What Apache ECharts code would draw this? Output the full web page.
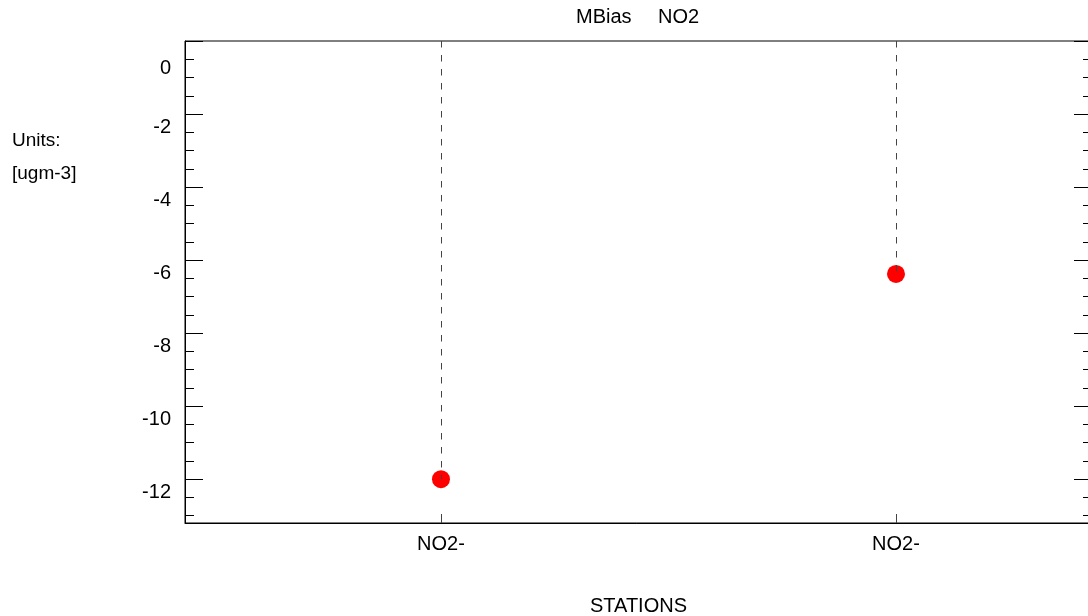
<!DOCTYPE html>
<html>
<head>
<meta charset="utf-8">
<script src="https://cdn.jsdelivr.net/npm/echarts@6/dist/echarts.min.js"></script>
<style>
  html, body { margin: 0; padding: 0; background: #fff; }
  #chart { width: 1088px; height: 616px; }
</style>
</head>
<body>
<div id="chart"></div>
<script>
// Mean bias of NO2 per station
const stations = ['NO2-', 'NO2-'];
const stationPos = [1, 2];
const mbias = [-12.0, -6.38];

const yMajor = [0, -2, -4, -6, -8, -10, -12];
const yMinor = [];
for (let v = 0; v >= -13; v -= 0.5) yMinor.push(v);

const FONT = "'Liberation Sans', Arial, sans-serif";
const Y_MIN = -13.2, Y_MAX = 0;

function yAxisDef(position, ticks, len, withLabels) {
  return {
    type: 'value', position: position, min: Y_MIN, max: Y_MAX,
    axisLine: { show: withLabels, onZero: false, lineStyle: { color: '#000', width: 1 } },
    axisTick: { show: true, inside: true, length: len, customValues: ticks,
                lineStyle: { color: '#000', width: 1 } },
    axisLabel: withLabels ? {
      show: true, customValues: yMajor, margin: 14, color: '#000',
      fontFamily: FONT, fontSize: 20,
      formatter: v => v === 0 ? '{z|0}' : '{n|' + v + '}',
      rich: {
        n: { padding: [26, 0, 0, 0], fontFamily: FONT, fontSize: 20, color: '#000' },
        z: { padding: [55, 0, 0, 0], fontFamily: FONT, fontSize: 20, color: '#000' }
      }
    } : { show: false },
    splitLine: { show: false }
  };
}

const chart = echarts.init(document.getElementById('chart'), null, { renderer: 'canvas' });

const textStyle = size => ({ fontFamily: FONT, fontSize: size, fontWeight: 'normal', color: '#000' });

chart.setOption({
  animation: false,
  backgroundColor: '#fff',
  title: [
    { text: 'MBias', left: 571, top: 2, textStyle: textStyle(20) },
    { text: 'NO2', left: 653, top: 2, textStyle: textStyle(20) },
    { text: 'Units:', left: 7, top: 126, textStyle: textStyle(19) },
    { text: '[ugm-3]', left: 7, top: 159, textStyle: textStyle(19) }
  ],
  grid: {
    left: 185, top: 41, width: 907, height: 482,
    outerBoundsMode: 'none', containLabel: false,
    show: true, borderColor: '#000', borderWidth: 1, backgroundColor: 'transparent'
  },
  xAxis: {
    type: 'value', min: 0.4374, max: 2.4308,
    name: 'STATIONS', nameLocation: 'middle', nameGap: 73,
    nameTextStyle: { fontFamily: FONT, fontSize: 20, color: '#000' },
    axisLine: { show: true, onZero: false, lineStyle: { color: '#000' } },
    axisTick: { show: true, inside: true, length: 9, customValues: stationPos,
                lineStyle: { color: '#444' } },
    axisLabel: { show: true, customValues: stationPos, margin: 11, color: '#000',
                 fontFamily: FONT, fontSize: 20,
                 formatter: v => stations[stationPos.indexOf(v)] || '' },
    splitLine: { show: false }
  },
  yAxis: [
    yAxisDef('left', yMajor, 18, true),
    yAxisDef('left', yMinor, 9, false),
    yAxisDef('right', yMajor, 18, false),
    yAxisDef('right', yMinor, 9, false)
  ],
  series: [{
    type: 'scatter',
    symbol: 'circle', symbolSize: 18,
    itemStyle: { color: '#ff0000', opacity: 1 },
    data: stationPos.map((x, i) => [x, mbias[i]]),
    markLine: {
      silent: true, symbol: 'none', z: 5,
      label: { show: false },
      lineStyle: { color: '#444', width: 1, type: [6.5, 7.5] },
      data: stationPos.map((x, i) => [{ coord: [x, Y_MAX] }, { coord: [x, mbias[i]] }])
    }
  }]
});
</script>
</body>
</html>
